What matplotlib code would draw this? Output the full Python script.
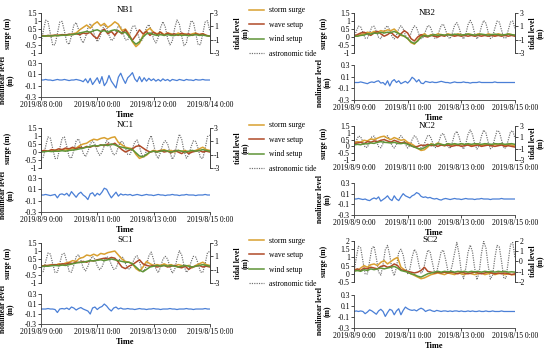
import numpy as np
import matplotlib
matplotlib.use("Agg")
import matplotlib.pyplot as plt
from matplotlib.lines import Line2D
from matplotlib.ticker import FuncFormatter

plt.rcParams["font.family"] = ["Liberation Serif", "DejaVu Serif"]
plt.rcParams["font.size"] = 5.5
plt.rcParams["axes.unicode_minus"] = False

# sample times (hours from first tick)
hours_3h = np.arange(0, 145, 3)
hours_2h = np.arange(0, 145, 2)
date_ticks = [0, 48, 96, 144]
dates_0808 = ["2019/8/8 0:00", "2019/8/10 0:00", "2019/8/12 0:00", "2019/8/14 0:00"]
dates_0809 = ["2019/8/9 0:00", "2019/8/11 0:00", "2019/8/13 0:00", "2019/8/15 0:00"]
legend_labels = ["storm surge", "wave setup", "wind setup", "astronomic tide"]

# ---- NB1 ----
nb1_storm = [0.05, 0.08, 0.05, 0.10, 0.08, 0.12, 0.10, 0.15, 0.12, 0.20,
             0.25, 0.45, 0.60, 0.75, 0.55, 0.80, 0.95, 0.70, 0.85, 0.60,
             0.75, 0.95, 0.80, 0.40, 0.50, 0.20, -0.30, -0.60, -0.40, 0.10,
             0.40, 0.55, 0.30, 0.20, 0.30, 0.15, 0.25, 0.20, 0.10, 0.25,
             0.15, 0.20, 0.10, 0.20, 0.25, 0.15, 0.20, 0.10, 0.05]
nb1_wave = [0.10, 0.05, 0.10, 0.08, 0.12, 0.10, 0.15, 0.12, 0.18, 0.15,
            0.20, 0.15, 0.25, 0.20, 0.30, 0.05, -0.10, 0.30, 0.50, 0.20,
            0.35, 0.10, 0.40, 0.20, 0.45, 0.10, -0.20, 0.10, 0.45, 0.20,
            0.35, 0.10, 0.30, 0.15, 0.30, 0.10, 0.25, 0.15, 0.20, 0.10,
            0.25, 0.15, 0.20, 0.10, 0.20, 0.15, 0.20, 0.10, 0.05]
nb1_wind = [0.05, 0.05, 0.08, 0.06, 0.10, 0.08, 0.12, 0.10, 0.15, 0.15,
            0.20, 0.25, 0.30, 0.35, 0.30, 0.40, 0.45, 0.35, 0.40, 0.30,
            0.40, 0.45, 0.35, 0.25, 0.30, 0.05, -0.25, -0.45, -0.30, 0.00,
            0.20, 0.25, 0.15, 0.10, 0.15, 0.10, 0.15, 0.10, 0.10, 0.15,
            0.10, 0.12, 0.08, 0.12, 0.15, 0.10, 0.12, 0.08, 0.05]
nb1_tide = [-1.60, 0.32, 1.93, 1.72, -0.11, -1.83, -1.74, -0.10, 1.64, 1.75,
            0.29, -1.37, -1.71, -0.43, 1.17, 1.57, 0.56, -0.92, -1.49, -0.62,
            0.74, 1.40, 0.69, -0.57, -1.29, -0.79, 0.42, 1.18, 0.83, -0.30,
            -1.14, -0.91, 0.18, 1.10, 0.98, -0.06, -1.04, -1.04, -0.06, 0.98,
            1.10, 0.18, -0.91, -1.14, -0.30, 0.83, 1.27, 0.49, -0.92, -1.49,
            -0.70, 0.85, 1.70, 0.90, -0.79, -1.78, -1.22, 0.70, 1.96, 1.38,
            -0.50, -1.90, -1.52, 0.30, 1.84, 1.64, -0.10, -1.74, -1.74, -0.10,
            1.64, 1.84, 0.30]
nb1_nonlinear = [0.00, 0.00, 0.01, 0.00, 0.00, -0.01, 0.00, 0.01, 0.00, 0.00,
                 0.01, 0.00, -0.01, 0.00, 0.00, 0.01, 0.00, -0.01,
                 -0.03, 0.02, -0.05, 0.03, -0.08, -0.02, 0.04, -0.06, 0.06, -0.10,
                 -0.04, 0.08, -0.02, -0.08, -0.14, 0.05, 0.12, 0.02, -0.06, 0.04,
                 0.08, 0.13, 0.02, -0.03, 0.06, -0.03, 0.04, -0.02, 0.03, -0.01, 0.02,
                 -0.02, 0.01, -0.02, 0.02, -0.01, 0.01, -0.02, 0.01, 0.00, -0.01,
                 0.01, 0.00, -0.01, 0.01, 0.00, 0.00, -0.01, 0.01, 0.00, 0.00,
                 0.01, 0.00, 0.00, 0.00]

# ---- NB2 ----
nb2_storm = [0.10, 0.05, 0.15, 0.20, 0.30, 0.25, 0.35, 0.30, 0.40, 0.35,
             0.45, 0.40, 0.50, 0.30, 0.10, 0.05, -0.10, -0.35, -0.45, -0.20,
             0.10, 0.20, 0.05, 0.15, 0.10, 0.20, 0.15, 0.10, 0.20, 0.15,
             0.10, 0.20, 0.15, 0.10, 0.20, 0.15, 0.10, 0.20, 0.15, 0.10,
             0.20, 0.15, 0.10, 0.20, 0.15, 0.10, 0.20, 0.15, 0.10]
nb2_wave = [0.05, 0.15, 0.25, 0.30, 0.20, 0.10, 0.25, 0.35, 0.20, 0.05,
            0.15, 0.30, 0.10, -0.05, 0.20, 0.40, 0.25, -0.10, -0.25, 0.00,
            0.15, 0.05, 0.00, 0.10, 0.05, 0.00, 0.10, 0.05, 0.15, 0.10,
            0.05, 0.10, 0.05, 0.10, 0.05, 0.10, 0.05, 0.10, 0.05, 0.10,
            0.05, 0.10, 0.05, 0.10, 0.05, 0.10, 0.05, 0.10, 0.05]
nb2_wind = [0.05, 0.05, 0.10, 0.12, 0.20, 0.18, 0.25, 0.22, 0.30, 0.25,
            0.30, 0.28, 0.35, 0.25, 0.15, 0.05, -0.10, -0.30, -0.40, -0.25,
            0.00, 0.10, 0.05, 0.10, 0.15, 0.10, 0.15, 0.12, 0.15, 0.12,
            0.18, 0.15, 0.12, 0.15, 0.18, 0.15, 0.12, 0.15, 0.18, 0.15,
            0.12, 0.15, 0.18, 0.15, 0.12, 0.15, 0.18, 0.15, 0.12]
nb2_tide = [-0.66, 0.25, 1.02, 0.92, 0.05, -0.77, -0.77, 0.05, 0.92, 1.02,
            0.25, -0.66, -0.85, -0.15, 0.79, 1.08, 0.45, -0.51, -0.89, -0.34,
            0.63, 1.10, 0.63, -0.34, -0.89, -0.51, 0.45, 1.08, 0.79, -0.15,
            -0.85, -0.66, 0.28, 1.11, 1.03, 0.12, -0.76, -0.76, 0.16, 1.17,
            1.31, 0.44, -0.62, -0.84, 0.01, 1.17, 1.56, 0.80, -0.40, -0.89,
            -0.17, 1.24, 1.90, 1.24, -0.12, -0.89, -0.35, 0.99, 1.87, 1.47,
            0.15, -0.83, -0.56, 0.71, 1.79, 1.65, 0.43, -0.72, -0.72, 0.43,
            1.65, 1.79, 0.71]
nb2_nonlinear = [0.00, 0.00, 0.00, 0.01, 0.00, -0.01, -0.02, 0.00, 0.01, 0.00, 0.02,
                 0.03, -0.01, 0.00, -0.04, 0.03, -0.06, 0.02, 0.05, 0.00, 0.03,
                 -0.02, 0.00, 0.02, -0.01, 0.03, 0.09, 0.06, 0.01, 0.05, -0.01,
                 -0.02, 0.02, 0.01, 0.00, 0.01, 0.00, 0.00, 0.01, 0.02, 0.01,
                 0.00, 0.00, -0.01, 0.00, 0.01, 0.00, 0.00, 0.00, 0.01, 0.00,
                 0.00, -0.01, 0.00, 0.00, 0.00, 0.01, 0.00, 0.00, 0.00, 0.00,
                 0.00, 0.00, 0.01, 0.00, 0.00, 0.00, 0.00, 0.00, 0.00, 0.00,
                 0.00, 0.00]

# ---- NC1 ----
nc1_storm = [0.05, 0.08, 0.05, 0.10, 0.12, 0.10, 0.15, 0.12, 0.18, 0.20,
             0.25, 0.40, 0.50, 0.55, 0.70, 0.80, 0.75, 0.85, 0.90, 0.80,
             0.90, 0.95, 0.60, 0.45, 0.30, 0.25, 0.20, -0.15, -0.40, -0.30,
             -0.20, 0.00, 0.10, 0.05, 0.10, 0.15, 0.05, 0.10, 0.00, 0.10,
             0.05, 0.10, 0.00, 0.05, 0.10, 0.20, 0.30, 0.15, 0.10]
nc1_wave = [0.05, 0.10, 0.05, 0.15, 0.10, 0.20, 0.15, 0.25, 0.20, 0.30,
            0.20, 0.30, 0.25, 0.35, 0.30, 0.40, 0.35, 0.45, 0.40, 0.50,
            0.45, 0.55, 0.35, 0.15, 0.00, 0.10, 0.20, 0.35, 0.40, 0.25,
            0.10, 0.00, 0.05, 0.00, 0.10, 0.00, 0.05, -0.05, 0.10, 0.00,
            -0.10, 0.05, -0.10, 0.00, 0.05, 0.10, 0.00, 0.05, 0.00]
nc1_wind = [0.00, 0.02, 0.05, 0.03, 0.05, 0.05, 0.08, 0.05, 0.10, 0.12,
            0.15, 0.20, 0.25, 0.30, 0.35, 0.40, 0.38, 0.42, 0.45, 0.40,
            0.50, 0.45, 0.35, 0.30, 0.25, 0.20, 0.15, -0.05, -0.25, -0.30,
            -0.15, 0.00, 0.05, 0.00, 0.05, 0.10, 0.05, 0.00, 0.05, 0.10,
            0.05, 0.00, 0.05, 0.10, 0.05, 0.10, 0.15, 0.10, 0.05]
nc1_tide = [-1.71, -1.37, 0.27, 1.66, 1.48, -0.09, -1.57, -1.57, -0.09, 1.48,
            1.66, 0.27, -1.37, -1.52, -0.38, 1.04, 1.37, 0.49, -0.79, -1.29,
            -0.53, 0.58, 1.10, 0.58, -0.48, -1.09, -0.67, 0.39, 1.08, 0.76,
            -0.28, -1.05, -0.84, 0.17, 1.01, 0.90, -0.06, -0.96, -0.96, -0.06,
            0.90, 1.20, 0.20, -1.06, -1.33, -0.38, 1.17, 1.86, 0.60, -0.98,
            -1.58, -0.62, 0.64, 1.10, 0.64, -0.66, -1.68, -1.10, 0.70, 2.06,
            1.31, -0.43, -1.52, -1.06, 0.18, 1.10, 0.98, -0.07, -1.48, -1.57,
            -0.10, 1.72, 1.93]
nc1_nonlinear = [0.00, 0.00, 0.01, 0.00, -0.01, 0.00, 0.01,
                 -0.05, 0.01, 0.02, 0.00, 0.03, -0.02, 0.06, 0.01, -0.04,
                 0.02, 0.05, 0.00, -0.03, -0.08, 0.02, 0.04, -0.02, 0.03, 0.00,
                 0.05, 0.12, 0.10, 0.02, -0.05, 0.00, 0.05, -0.02, 0.02, 0.00,
                 0.01, 0.00, 0.01, -0.01, 0.00, 0.01, 0.00, -0.01, 0.00, 0.01,
                 0.00, 0.00, -0.01, 0.00, 0.01, 0.00, 0.00, -0.01, 0.00, 0.00,
                 0.01, 0.00, 0.00, -0.01, 0.00, 0.00, 0.01, 0.00, 0.00, 0.00,
                 -0.01, 0.00, 0.00, 0.00, 0.01, 0.00, 0.00]

# ---- NC2 ----
nc2_storm = [0.25, 0.35, 0.30, 0.45, 0.40, 0.55, 0.50, 0.60, 0.70, 0.75,
             0.60, 0.50, 0.65, 0.55, 0.45, 0.50, 0.30, 0.20, 0.05, -0.15,
             -0.30, -0.25, -0.05, 0.20, 0.10, 0.25, 0.15, 0.05, 0.20, 0.10,
             0.15, 0.05, 0.20, 0.10, 0.15, 0.05, 0.10, 0.20, 0.05, 0.15,
             0.10, 0.05, 0.15, 0.10, 0.20, 0.05, 0.15, 0.10, 0.05]
nc2_wave = [0.20, 0.25, 0.30, 0.20, 0.35, 0.30, 0.40, 0.35, 0.45, 0.50,
            0.40, 0.30, 0.45, 0.35, 0.25, 0.30, 0.20, 0.05, -0.05, 0.00,
            0.10, 0.05, 0.15, 0.05, 0.10, 0.00, 0.10, 0.05, 0.10, 0.00,
            0.05, 0.10, 0.00, 0.05, 0.10, 0.00, 0.05, 0.10, 0.00, 0.05,
            0.10, 0.05, 0.00, 0.05, 0.10, 0.00, 0.05, 0.00, -0.05]
nc2_wind = [0.10, 0.15, 0.12, 0.20, 0.18, 0.25, 0.22, 0.30, 0.35, 0.30,
            0.28, 0.25, 0.30, 0.22, 0.20, 0.25, 0.15, 0.05, -0.05, -0.15,
            -0.20, -0.10, 0.05, 0.15, 0.10, 0.20, 0.15, 0.10, 0.20, 0.15,
            0.20, 0.15, 0.20, 0.15, 0.20, 0.15, 0.20, 0.18, 0.15, 0.20,
            0.18, 0.15, 0.20, 0.18, 0.20, 0.15, 0.18, 0.20, 0.15]
nc2_tide = [-0.64, 0.37, 1.21, 1.10, 0.15, -0.76, -0.76, 0.15, 1.10, 1.21,
            0.37, -0.64, -0.85, -0.08, 0.96, 1.28, 0.59, -0.47, -0.89, -0.28,
            0.78, 1.30, 0.78, -0.28, -0.89, -0.47, 0.59, 1.28, 0.96, -0.08,
            -0.85, -0.64, 0.41, 1.35, 1.28, 0.24, -0.79, -0.80, 0.29, 1.50,
            1.69, 0.63, -0.67, -0.96, 0.10, 1.57, 2.07, 1.10, -0.44, -1.07,
            -0.15, 1.50, 2.30, 1.50, -0.15, -1.08, -0.44, 1.20, 2.27, 1.77,
            0.17, -1.02, -0.69, 0.86, 2.16, 1.99, 0.51, -0.88, -0.88, 0.51,
            1.99, 2.16, 0.86]
nc2_nonlinear = [0.00, 0.00, 0.01, 0.00, -0.01, 0.00, -0.02,
                 -0.03, 0.00, 0.02, 0.00, 0.04, -0.04, -0.01, 0.02, 0.06, 0.00,
                 -0.03, 0.06, 0.00, -0.03, 0.04, 0.10, 0.06, 0.04, 0.02, 0.06,
                 0.08, 0.12, 0.10, 0.05, 0.03, 0.04, 0.02, 0.03, 0.01,
                 0.00, 0.01, -0.01, -0.02, 0.00, 0.01, 0.00, -0.01, 0.00, 0.01,
                 0.00, 0.00, -0.01, 0.00, 0.01, 0.00, 0.00, 0.00, -0.01, 0.00,
                 0.00, 0.01, 0.00, 0.00, 0.00, -0.01, 0.00, 0.00, 0.00, 0.00,
                 0.01, 0.00, 0.00, 0.00, 0.00, 0.00, 0.00]

# ---- SC1 ----
sc1_storm = [0.05, 0.10, 0.08, 0.15, 0.10, 0.20, 0.15, 0.25, 0.30, 0.40,
             0.35, 0.55, 0.60, 0.75, 0.70, 0.80, 0.70, 0.85, 0.80, 0.90,
             0.95, 1.00, 0.75, 0.50, 0.35, 0.30, 0.20, -0.10, -0.25, 0.00,
             0.35, 0.20, 0.10, 0.15, 0.10, 0.20, 0.10, 0.15, 0.05, 0.15,
             0.10, 0.05, 0.10, -0.05, 0.10, 0.20, 0.30, 0.15, 0.10]
sc1_wave = [0.05, 0.08, 0.10, 0.12, 0.15, 0.12, 0.20, 0.18, 0.25, 0.22,
            0.30, 0.28, 0.35, 0.30, 0.40, 0.38, 0.45, 0.50, 0.55, 0.50,
            0.60, 0.55, 0.30, 0.00, -0.10, 0.05, 0.15, 0.30, 0.45, 0.20,
            0.10, 0.05, 0.10, 0.00, 0.05, 0.10, 0.00, 0.05, 0.10, 0.00,
            -0.05, 0.05, -0.15, 0.00, 0.05, 0.10, 0.00, 0.05, 0.00]
sc1_wind = [0.02, 0.05, 0.05, 0.08, 0.10, 0.08, 0.12, 0.10, 0.15, 0.20,
            0.25, 0.30, 0.30, 0.35, 0.40, 0.38, 0.42, 0.45, 0.40, 0.45,
            0.50, 0.45, 0.40, 0.35, 0.30, 0.30, 0.20, 0.00, -0.20, -0.30,
            -0.15, 0.00, 0.05, 0.10, 0.05, 0.10, 0.05, 0.10, 0.05, 0.00,
            0.05, 0.10, 0.05, 0.00, 0.05, 0.10, 0.15, 0.10, 0.05]
sc1_tide = [-1.55, -1.25, 0.22, 1.50, 1.35, -0.10, -1.42, -1.40, -0.05, 1.30,
            1.45, 0.22, -1.25, -1.38, -0.35, 0.95, 1.25, 0.45, -0.72, -1.18,
            -0.50, 0.52, 1.00, 0.55, -0.45, -1.00, -0.62, 0.35, 0.98, 0.70,
            -0.25, -0.95, -0.78, 0.15, 0.92, 0.82, -0.06, -0.88, -0.88, -0.06,
            0.82, 1.10, 0.18, -0.98, -1.22, -0.35, 1.05, 1.65, 0.55, -0.90,
            -1.45, -0.58, 0.58, 1.00, 0.60, -0.60, -1.52, -1.00, 0.62, 1.85,
            1.20, -0.40, -1.40, -0.98, 0.16, 1.00, 0.90, -0.07, -1.35, -1.42,
            -0.10, 1.55, 1.75]
sc1_nonlinear = [0.00, 0.00, 0.00, 0.01, 0.00, 0.00, -0.01,
                 -0.07, 0.00, 0.01, 0.00, 0.02, -0.01, 0.04, 0.02, -0.02,
                 0.01, 0.03, 0.00, -0.02, -0.04, -0.10, 0.02, 0.04, -0.01, 0.03,
                 0.05, 0.10, 0.06, 0.00, -0.04, 0.02, 0.04, 0.00, 0.02, 0.00,
                 0.00, 0.01, 0.00, 0.00, -0.01, 0.00, 0.01, 0.00, 0.00, -0.01,
                 0.00, 0.00, 0.01, 0.00, 0.00, -0.01, 0.00, 0.00, 0.00, 0.01,
                 0.00, 0.00, -0.01, 0.00, 0.00, 0.00, 0.01, 0.00, 0.00, -0.01,
                 0.00, 0.00, 0.00, 0.00, 0.01, 0.00, 0.00]

# ---- SC2 ----
sc2_storm = [0.30, 0.20, 0.35, 0.50, 0.40, 0.55, 0.60, 0.50, 0.70, 0.80,
             0.60, 0.75, 0.90, 1.00, 0.40, 0.25, 0.10, 0.00, -0.10, -0.20,
             -0.30, -0.25, -0.15, -0.05, 0.00, 0.05, 0.00, -0.05, 0.05, 0.00,
             -0.05, 0.05, 0.00, -0.05, 0.05, 0.00, -0.05, 0.00, 0.05, -0.05,
             0.00, 0.05, -0.05, 0.00, 0.05, -0.05, 0.00, -0.05, -0.05]
sc2_wave = [0.20, 0.30, 0.20, 0.35, 0.30, 0.40, 0.35, 0.30, 0.45, 0.50,
            0.40, 0.45, 0.60, 0.50, 0.25, 0.20, 0.15, 0.10, 0.05, 0.10,
            0.20, 0.40, 0.15, 0.10, 0.05, 0.10, 0.05, 0.10, 0.05, 0.10,
            0.05, 0.00, 0.10, 0.05, 0.00, 0.05, 0.10, 0.05, 0.00, 0.05,
            0.10, 0.05, 0.00, 0.05, 0.00, 0.05, 0.00, -0.05, 0.00]
sc2_wind = [0.15, 0.20, 0.15, 0.25, 0.20, 0.30, 0.25, 0.30, 0.35, 0.30,
            0.35, 0.40, 0.45, 0.35, 0.20, 0.15, 0.10, 0.00, -0.05, -0.15,
            -0.20, -0.10, 0.00, 0.05, 0.10, 0.15, 0.10, 0.15, 0.12, 0.15,
            0.10, 0.15, 0.12, 0.15, 0.10, 0.15, 0.12, 0.15, 0.10, 0.15,
            0.12, 0.15, 0.10, 0.15, 0.12, 0.15, 0.10, 0.12, 0.10]
sc2_tide = [-1.04, 0.33, 1.48, 1.33, 0.03, -1.21, -1.21, 0.03, 1.33, 1.48,
            0.33, -1.04, -1.33, -0.28, 1.14, 1.57, 0.63, -0.82, -1.39, -0.56,
            0.90, 1.20, 0.64, -0.53, -1.19, -0.73, 0.42, 1.18, 0.83, -0.30,
            -1.14, -0.91, 0.18, 1.10, 0.98, -0.06, -1.04, -1.04, -0.06, 0.98,
            1.10, 0.18, -0.91, -1.14, -0.30, 0.83, 1.86, 0.73, -1.00, -1.68,
            -0.65, 0.90, 1.60, 0.95, -0.69, -1.78, -1.06, 0.77, 1.96, 1.34,
            -0.35, -1.71, -1.34, 0.34, 1.57, 1.41, 0.01, -1.64, -1.64, 0.01,
            1.66, 1.85, 0.39]
sc2_nonlinear = [0.00, 0.01, 0.00, 0.01, 0.00,
                 -0.04, -0.01, 0.03, 0.01, -0.02, -0.05, 0.01, 0.04, 0.00, -0.09,
                 -0.02, 0.04, 0.02, -0.06, 0.01, 0.05, -0.06, 0.02, 0.08, 0.05,
                 0.03, 0.02, 0.03, 0.01, 0.04, 0.06, 0.04, 0.00, 0.02, 0.03, 0.01,
                 0.00, 0.02, 0.01, 0.00, 0.01, 0.01, 0.00, 0.01, 0.00, 0.01,
                 0.01, 0.00, 0.01, 0.00, 0.00, 0.01, 0.00, 0.01, 0.00, 0.00,
                 0.01, 0.00, 0.00, 0.01, 0.00, 0.00, 0.01, 0.00, 0.00, 0.00,
                 0.01, 0.00, 0.00, 0.00, 0.00, 0.00, 0.00]

c_storm = "#D9A030"
c_wave = "#B04A28"
c_wind = "#5F9538"
c_tide = "#6e6e6e"
c_nonlin = "#4A7FD6"
c_axis = "#404040"

fmt = FuncFormatter(lambda v, p: f"{v:g}")


def style_ticks(ax):
    ax.tick_params(direction="out", length=2, width=0.5, pad=1, colors="black",
                   labelsize=5.5)
    for s in ax.spines.values():
        s.set_linewidth(0.6)
        s.set_color(c_axis)


def draw_station(fig, name, top_box, bot_box, storm, wave, wind, tide, nonlinear,
                 dates, surge_lim=(-1, 1.5), surge_ticks=(-1, -0.5, 0, 0.5, 1, 1.5),
                 tide_lim=(-3, 3), tide_ticks=(-3, -1, 1, 3), title_pos=(0.5, 1.075),
                 top_dates=False, legend_at=None):
    left_col = top_box[0] < 0.5
    w_px = top_box[2] * 550

    ax = fig.add_axes(top_box)
    ax2 = ax.twinx()
    ax.set_zorder(ax2.get_zorder() + 1)
    ax.patch.set_visible(False)

    ax2.plot(hours_2h, tide, color=c_tide, lw=0.85, ls=(0, (1, 1)))
    ax.plot(hours_3h, storm, color=c_storm, lw=1.1)
    ax.plot(hours_3h, wave, color=c_wave, lw=1.1)
    ax.plot(hours_3h, wind, color=c_wind, lw=1.1)

    for a in (ax, ax2):
        a.set_xlim(0, 144)
        a.spines["top"].set_visible(False)
        a.spines["bottom"].set_visible(False)
        style_ticks(a)
    ax.set_ylim(*surge_lim)
    ax.set_yticks(surge_ticks)
    ax.yaxis.set_major_formatter(fmt)
    ax2.set_ylim(*tide_lim)
    ax2.set_yticks(tide_ticks)
    ax2.yaxis.set_major_formatter(fmt)
    ax.set_xticks(date_ticks)
    if top_dates:
        ax.set_xticklabels(dates)
        ax.tick_params(axis="x", length=0, pad=3)
    else:
        ax.tick_params(axis="x", bottom=False, labelbottom=False)

    ax.set_ylabel("surge (m)", fontweight="bold")
    ax2.set_ylabel("tidal level\n(m)", fontweight="bold", linespacing=1.0)
    if left_col:
        ax.yaxis.set_label_coords((12 - 41) / w_px, 0.5)
        ax2.yaxis.set_label_coords((234 - 41) / w_px, 0.5)
    else:
        ax.yaxis.set_label_coords((328 - 354) / w_px, 0.5)
        ax2.yaxis.set_label_coords((529 - 354) / w_px, 0.5)
    ax.text(title_pos[0], title_pos[1], name, transform=ax.transAxes,
            ha="center", va="center", fontsize=6.5)

    bx = fig.add_axes(bot_box)
    bx.plot(hours_2h, nonlinear, color=c_nonlin, lw=0.9)
    bx.set_xlim(0, 144)
    bx.set_ylim(-0.3, 0.3)
    bx.set_yticks([-0.3, -0.1, 0.1, 0.3])
    bx.yaxis.set_major_formatter(fmt)
    bx.set_xticks(date_ticks)
    bx.set_xticklabels(dates)
    bx.spines["top"].set_visible(False)
    bx.spines["right"].set_visible(False)
    style_ticks(bx)
    bx.set_xlabel("Time", fontweight="bold", labelpad=1, fontsize=6)
    bx.set_ylabel("nonlinear level\n(m)", fontweight="bold", linespacing=1.0)
    if left_col:
        bx.yaxis.set_label_coords((15 - 41) / w_px, 0.5)
    else:
        bx.yaxis.set_label_coords((332 - 354) / w_px, 0.5)

    if legend_at is not None:
        handles = [Line2D([], [], color=c_storm, lw=1.1),
                   Line2D([], [], color=c_wave, lw=1.1),
                   Line2D([], [], color=c_wind, lw=1.1),
                   Line2D([], [], color=c_tide, lw=0.85, ls=(0, (1, 1)))]
        fig.legend(handles, legend_labels, loc="upper left", bbox_to_anchor=legend_at,
                   bbox_transform=fig.transFigure, frameon=False, fontsize=5.5,
                   borderpad=0, borderaxespad=0, handlelength=2.0, handletextpad=0.6,
                   labelspacing=0.85)


fig = plt.figure(figsize=(5.5, 3.52), dpi=100)

draw_station(fig, "NB1", [0.0745, 0.8494, 0.307, 0.1136], [0.0745, 0.7244, 0.307, 0.0966],
             nb1_storm, nb1_wave, nb1_wind, nb1_tide, nb1_nonlinear, dates_0808,
             legend_at=(0.453, 0.982))
draw_station(fig, "NB2", [0.6436, 0.8494, 0.2927, 0.1136], [0.6436, 0.7159, 0.2927, 0.0994],
             nb2_storm, nb2_wave, nb2_wind, nb2_tide, nb2_nonlinear, dates_0809,
             title_pos=(0.453, 1.0))
draw_station(fig, "NC1", [0.0745, 0.5227, 0.307, 0.1136], [0.0745, 0.3977, 0.307, 0.0966],
             nc1_storm, nc1_wave, nc1_wind, nc1_tide, nc1_nonlinear, dates_0809,
             legend_at=(0.453, 0.655))
draw_station(fig, "NC2", [0.6436, 0.5455, 0.2927, 0.0966], [0.6436, 0.3892, 0.2927, 0.0909],
             nc2_storm, nc2_wave, nc2_wind, nc2_tide, nc2_nonlinear, dates_0809,
             title_pos=(0.453, 1.0), top_dates=True)
draw_station(fig, "SC1", [0.0745, 0.196, 0.307, 0.1136], [0.0745, 0.0795, 0.307, 0.0852],
             sc1_storm, sc1_wave, sc1_wind, sc1_tide, sc1_nonlinear, dates_0809,
             legend_at=(0.453, 0.328))
draw_station(fig, "SC2", [0.6436, 0.1989, 0.2927, 0.1165], [0.6436, 0.0682, 0.2927, 0.0938],
             sc2_storm, sc2_wave, sc2_wind, sc2_tide, sc2_nonlinear, dates_0809,
             surge_lim=(-0.5, 2), surge_ticks=(-0.5, 0, 0.5, 1, 1.5, 2),
             tide_lim=(-2, 2), tide_ticks=(-2, -1, 0, 1, 2), title_pos=(0.47, 1.02))

fig.savefig("out.png", dpi=100)
